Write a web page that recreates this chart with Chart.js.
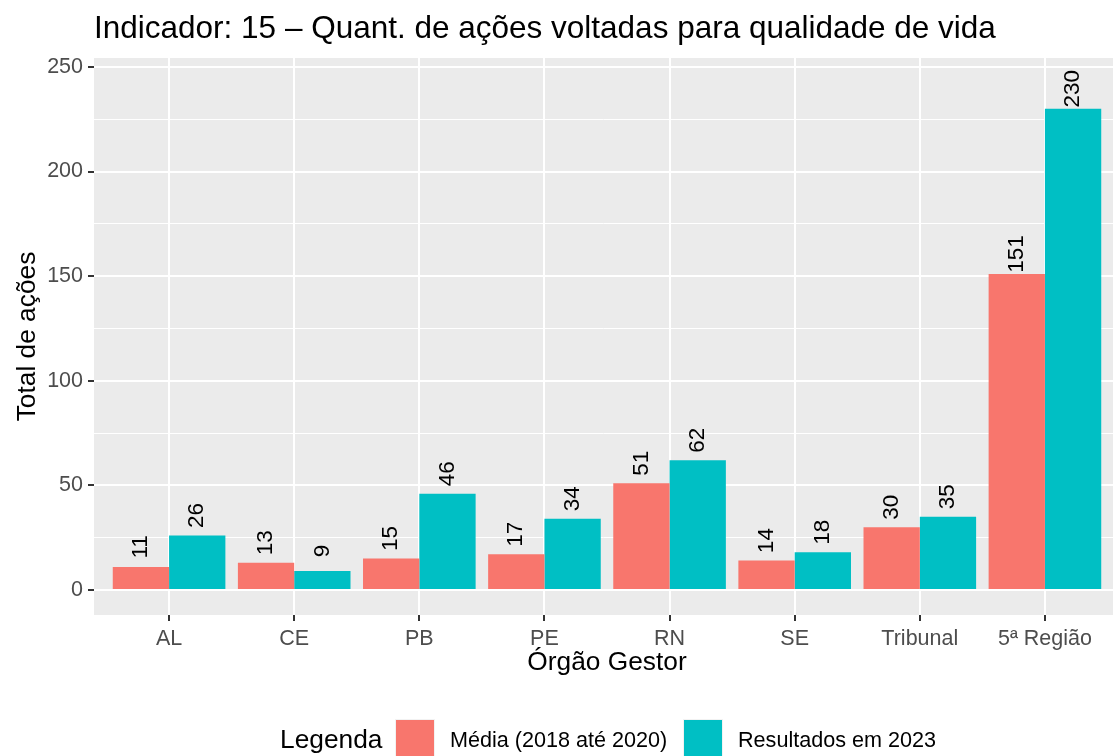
<!DOCTYPE html>
<html>
<head>
<meta charset="utf-8">
<script src="https://cdn.jsdelivr.net/npm/chart.js@4"></script>
<style>
  html, body { margin: 0; padding: 0; background: #fff; }
  #wrap { width: 1113px; height: 756px; }
</style>
</head>
<body>
<div id="wrap"><canvas id="chart" width="1113" height="756"></canvas></div>
<script>
// data
const categories = ['AL', 'CE', 'PB', 'PE', 'RN', 'SE', 'Tribunal', '5ª Região'];
const media = [11, 13, 15, 17, 51, 14, 30, 151];
const resultados = [26, 9, 46, 34, 62, 18, 35, 230];
const yTicks = [0, 25, 50, 75, 100, 125, 150, 175, 200, 225, 250];
const seriesNames = ['Média (2018 até 2020)', 'Resultados em 2023'];
const seriesColors = ['#F8766D', '#00BFC4'];

const FONT = '"Liberation Sans", Arial, sans-serif';

// grey panel behind the plot (ggplot theme_gray look)
const panelBg = {
  id: 'panelBg',
  beforeDraw(chart) {
    const { ctx, chartArea: a } = chart;
    ctx.save();
    ctx.fillStyle = '#EBEBEB';
    ctx.fillRect(a.left, a.top, a.right - a.left, a.bottom - a.top);
    ctx.restore();
  }
};

// rotated value labels above each bar
const barLabels = {
  id: 'barLabels',
  afterDatasetsDraw(chart) {
    const ctx = chart.ctx;
    ctx.save();
    ctx.font = '22.5px ' + FONT;
    ctx.fillStyle = '#000';
    ctx.textAlign = 'center';
    ctx.textBaseline = 'middle';
    chart.data.datasets.forEach((ds, i) => {
      chart.getDatasetMeta(i).data.forEach((bar, j) => {
        ctx.save();
        ctx.translate(bar.x, bar.y - 20);
        ctx.rotate(-Math.PI / 2);
        ctx.fillText(String(ds.data[j].y), 0, 0);
        ctx.restore();
      });
    });
    ctx.restore();
  }
};

// title, axis titles and legend drawn ggplot-style
const decorations = {
  id: 'decorations',
  afterDraw(chart) {
    const { ctx, chartArea: a } = chart;
    ctx.save();
    ctx.fillStyle = '#000';

    ctx.font = '31.5px ' + FONT;
    ctx.textAlign = 'left';
    ctx.textBaseline = 'alphabetic';
    ctx.fillText('Indicador: 15 – Quant. de ações voltadas para qualidade de vida', 94, 37.5);

    ctx.font = '26.3px ' + FONT;
    ctx.textAlign = 'center';
    ctx.textBaseline = 'middle';
    ctx.save();
    ctx.translate(28, (a.top + a.bottom) / 2);
    ctx.rotate(-Math.PI / 2);
    ctx.fillText('Total de ações', 0, 0);
    ctx.restore();
    ctx.fillText('Órgão Gestor', 607, 663);

    // legend
    ctx.textAlign = 'left';
    ctx.fillText('Legenda', 280, 741);
    const keyX = [396, 684];
    const textX = [450, 738];
    ctx.font = '21.6px ' + FONT;
    seriesNames.forEach((name, i) => {
      ctx.fillStyle = '#F2F2F2';
      ctx.fillRect(keyX[i] - 1, 719, 40, 40);
      ctx.fillStyle = seriesColors[i];
      ctx.fillRect(keyX[i], 720, 38, 38);
      ctx.fillStyle = '#000';
      ctx.fillText(name, textX[i], 741);
    });
    ctx.restore();
  }
};

const toPoints = vals => vals.map((v, i) => ({ x: i, y: v }));

new Chart(document.getElementById('chart'), {
  type: 'bar',
  data: {
    datasets: [
      { label: seriesNames[0], data: toPoints(media), backgroundColor: seriesColors[0] },
      { label: seriesNames[1], data: toPoints(resultados), backgroundColor: seriesColors[1] }
    ]
  },
  options: {
    responsive: false,
    animation: false,
    layout: { padding: { top: 58, left: 0, right: 0, bottom: 0 } },
    datasets: { bar: { categoryPercentage: 0.9, barPercentage: 1, borderWidth: 0 } },
    plugins: { legend: { display: false }, title: { display: false }, tooltip: { enabled: false } },
    scales: {
      x: {
        type: 'linear',
        min: -0.6,
        max: 7.544,
        offset: false,
        afterFit: s => { s.height = 141; },
        afterBuildTicks: s => { s.ticks = categories.map((c, i) => ({ value: i })); },
        border: { display: false },
        grid: { offset: false, color: '#FFFFFF', lineWidth: 2, tickColor: '#333333', tickWidth: 2, tickLength: 6 },
        ticks: {
          autoSkip: false,
          maxRotation: 0,
          padding: 5,
          color: '#4D4D4D',
          font: { family: FONT, size: 21.5 },
          callback: v => categories[v]
        }
      },
      y: {
        min: -12,
        max: 254.3,
        afterFit: s => { s.width = 94; },
        afterBuildTicks: s => { s.ticks = yTicks.map(v => ({ value: v })); },
        border: { display: false },
        grid: {
          color: '#FFFFFF',
          lineWidth: c => (c.tick && c.tick.value % 50 === 0 ? 2 : 1),
          tickColor: c => (c.tick && c.tick.value % 50 === 0 ? '#333333' : 'rgba(0,0,0,0)'),
          tickWidth: 2,
          tickLength: 6
        },
        ticks: {
          padding: 5,
          color: '#4D4D4D',
          font: { family: FONT, size: 21.5 },
          callback: v => (v % 50 === 0 ? v : '')
        }
      }
    }
  },
  plugins: [panelBg, barLabels, decorations]
});
</script>
</body>
</html>
